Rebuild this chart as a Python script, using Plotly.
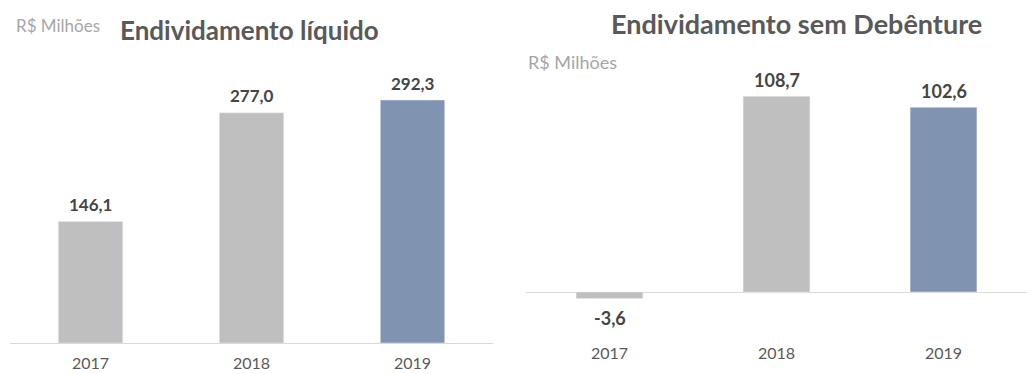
import plotly.graph_objects as go

# Data (R$ milhões)
years = ["2017", "2018", "2019"]
endiv_liquido = [146.1, 277.0, 292.3]
endiv_sem_deb = [-3.6, 108.7, 102.6]
bar_colors = ["#bfbfbf", "#bfbfbf", "#8093b0"]

FONT = "Lato"
W, H = 1027, 374


def fmt(v):
    return f"{v:.1f}".replace(".", ",")


fig = go.Figure()

fig.add_trace(go.Bar(x=years, y=endiv_liquido, marker_color=bar_colors,
                     width=0.4, xaxis="x", yaxis="y", hoverinfo="skip"))
fig.add_trace(go.Bar(x=years, y=endiv_sem_deb, marker_color=bar_colors,
                     width=0.4, xaxis="x2", yaxis="y2", hoverinfo="skip"))

# Value labels, placed at each category index
annotations = []
for i, v in enumerate(endiv_liquido):
    annotations.append(dict(x=i, y=v, xref="x", yref="y", text=f"<b>{fmt(v)}</b>",
                            showarrow=False, yanchor="middle", yshift=17,
                            font=dict(family=FONT, size=17, color="#454545")))
for i, v in enumerate(endiv_sem_deb):
    annotations.append(dict(x=i, y=v, xref="x2", yref="y2", text=f"<b>{fmt(v)}</b>",
                            showarrow=False, yanchor="middle",
                            yshift=16 if v >= 0 else -20,
                            font=dict(family=FONT, size=18, color="#454545")))

# Titles and unit labels
annotations += [
    dict(x=118 / W, y=1 - 30 / H, xref="paper", yref="paper", xanchor="left", yanchor="middle",
         text="<b>Endividamento líquido</b>", showarrow=False,
         font=dict(family=FONT, size=26, color="#595959")),
    dict(x=14 / W, y=1 - 25 / H, xref="paper", yref="paper", xanchor="left", yanchor="middle",
         text="R$ Milhões", showarrow=False,
         font=dict(family=FONT, size=17, color="#a6a6a6")),
    dict(x=609 / W, y=1 - 23 / H, xref="paper", yref="paper", xanchor="left", yanchor="middle",
         text="<b>Endividamento sem Debênture</b>", showarrow=False,
         font=dict(family=FONT, size=27, color="#595959")),
    dict(x=526 / W, y=1 - 62 / H, xref="paper", yref="paper", xanchor="left", yanchor="middle",
         text="R$ Milhões", showarrow=False,
         font=dict(family=FONT, size=18, color="#a6a6a6")),
]

tickfont = dict(family=FONT, size=16, color="#595959")

fig.update_layout(
    width=W, height=H,
    margin=dict(l=0, r=0, t=0, b=0, autoexpand=False),
    paper_bgcolor="white", plot_bgcolor="white",
    showlegend=False,
    bargap=0.6,
    annotations=annotations,
    xaxis=dict(type="category", range=[-0.5, 2.5], domain=[10 / W, 493 / W], showline=True,
               linecolor="#d9d9d9", linewidth=1, showgrid=False, automargin=False,
               ticks="outside", ticklen=6, tickcolor="rgba(0,0,0,0)",
               tickfont=tickfont, anchor="y", fixedrange=True),
    yaxis=dict(domain=[1 - 343 / H, 1 - 77 / H], range=[0, 320], visible=False,
               showgrid=False, zeroline=False, anchor="x", fixedrange=True),
    xaxis2=dict(type="category", range=[-0.5, 2.5], domain=[526 / W, 1], showline=False,
                showgrid=False, automargin=False, ticks="outside", ticklen=29,
                tickcolor="rgba(0,0,0,0)", tickfont=tickfont, anchor="y2", fixedrange=True),
    yaxis2=dict(domain=[1 - 310 / H, 1 - 76 / H], range=[-10, 120], showticklabels=False,
                showgrid=False, zeroline=True, zerolinecolor="#d9d9d9", zerolinewidth=1,
                showline=False, automargin=False, anchor="x2", fixedrange=True),
)

fig.write_html("out.html")
